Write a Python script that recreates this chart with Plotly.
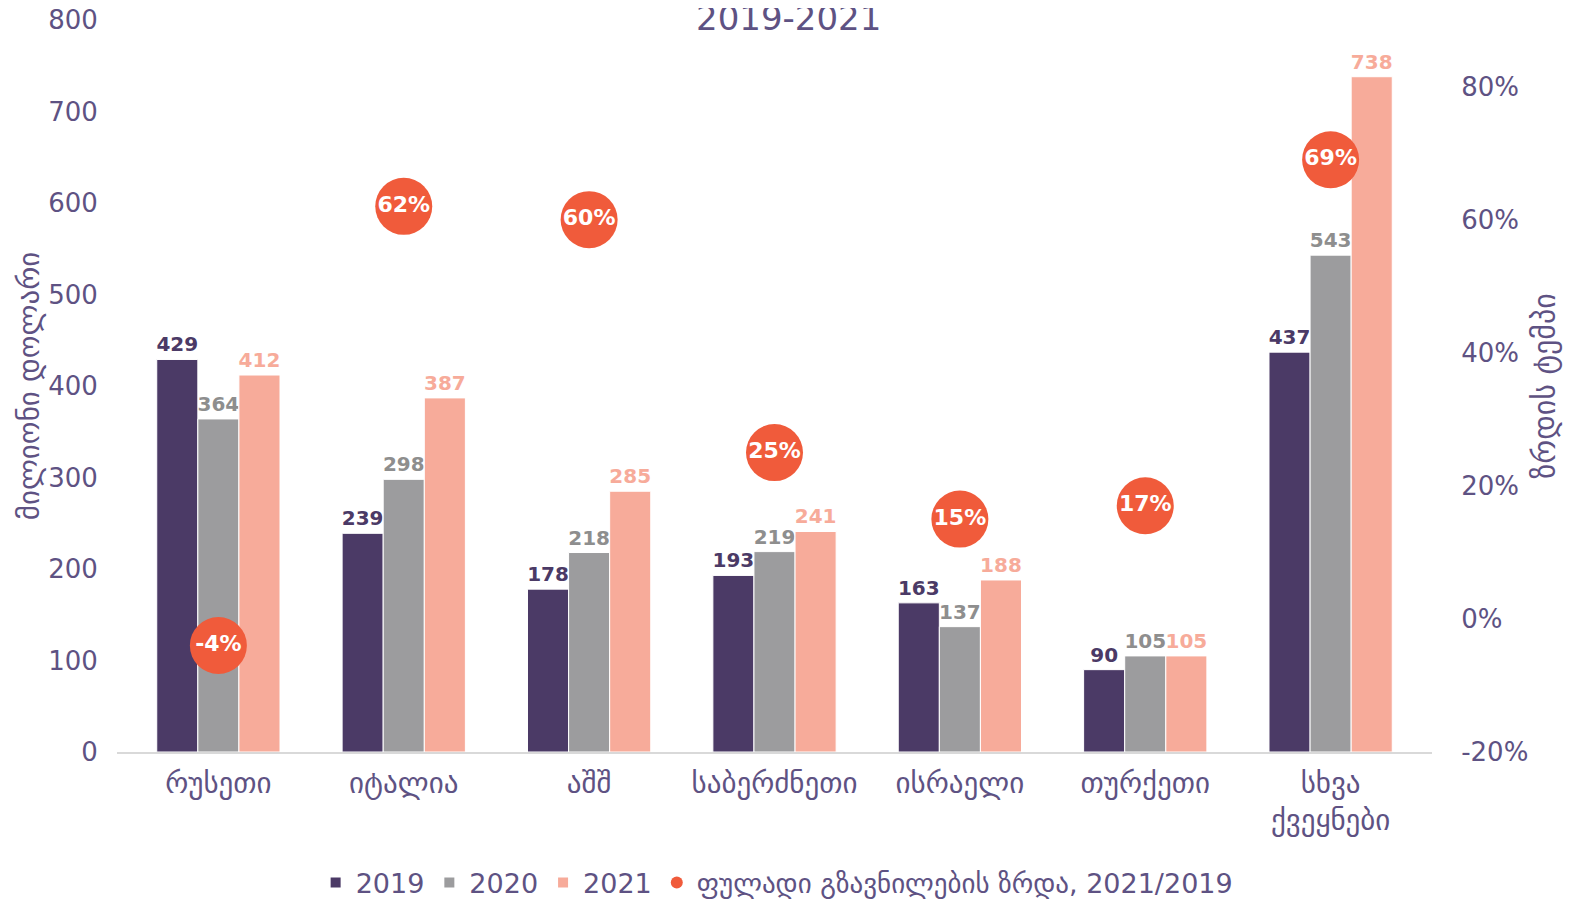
import plotly.graph_objects as go

# მონაცემები
countries = ["რუსეთი", "იტალია", "აშშ", "საბერძნეთი", "ისრაელი", "თურქეთი", "სხვა<br>ქვეყნები"]
v2019 = [429, 239, 178, 193, 163, 90, 437]
v2020 = [364, 298, 218, 219, 137, 105, 543]
v2021 = [412, 387, 285, 241, 188, 105, 738]
growth = [-0.04, 0.62, 0.60, 0.25, 0.15, 0.17, 0.69]
growth_ticks = [-0.2, 0, 0.2, 0.4, 0.6, 0.8]
growth_tick_text = ["-20%", "0%", "20%", "40%", "60%", "80%"]

TXT = "#5E5283"
C19, C20, C21, CDOT = "#4B3A66", "#9C9C9E", "#F7AB9A", "#F05B3B"
FONT = "DejaVu Sans"

fig = go.Figure()

for name, vals, col, tcol in [("2019", v2019, C19, C19), ("2020", v2020, C20, "#8E8E8E"), ("2021", v2021, C21, C21)]:
    fig.add_trace(go.Bar(
        x=countries, y=vals, name=name,
        marker=dict(color=col, line=dict(color="white", width=1)),
        text=vals, textposition="outside", cliponaxis=False, constraintext="none",
        textfont=dict(family=FONT, size=20, color=tcol, weight="bold"),
    ))

fig.add_trace(go.Scatter(
    x=countries, y=growth, yaxis="y2", mode="markers",
    name="ფულადი გზავნილების ზრდა, 2021/2019",
    marker=dict(color=CDOT, size=57),
))
fig.add_trace(go.Scatter(
    x=countries, y=growth, yaxis="y2", mode="text", showlegend=False,
    text=[f"{round(g * 100)}%" for g in growth],
    textfont=dict(family=FONT, size=22, color="white", weight="bold"),
))

# the page adds an 8px body margin, so the figure is 8px smaller
fig.update_layout(
    width=1567, height=893,
    margin=dict(l=109, r=143, t=12, b=149, autoexpand=False),
    paper_bgcolor="white", plot_bgcolor="white",
    barmode="group", bargap=0.335, bargroupgap=0,
    font=dict(family=FONT, color=TXT, size=24),
    showlegend=True,
    legend=dict(orientation="h", x=0.502, xanchor="center", y=-0.179, yanchor="middle",
                font=dict(family=FONT, size=27, color=TXT), itemsizing="constant",
                traceorder="normal"),
    xaxis=dict(showline=True, linecolor="#D9D9D9", linewidth=1.5, ticks="outside", automargin=False,
               ticklen=4, tickcolor="rgba(0,0,0,0)", tickfont=dict(size=29, color=TXT)),
    yaxis=dict(range=[0, 800], dtick=100, showgrid=False, zeroline=False, automargin=False,
               ticks="outside", ticklen=13, tickcolor="rgba(0,0,0,0)", ticklabeloverflow="allow",
               tickfont=dict(size=26, color=TXT),
               title=dict(text="მილიონი დოლარი", font=dict(family=FONT, size=29, color=TXT), standoff=0)),
    yaxis2=dict(range=[-0.2, 0.9], tickvals=growth_ticks, ticktext=growth_tick_text,
                overlaying="y", side="right", showgrid=False, zeroline=False, automargin=False,
                ticks="outside", ticklen=23, tickcolor="rgba(0,0,0,0)", ticklabeloverflow="allow",
                tickfont=dict(size=26, color=TXT),
                title=dict(text="ზრდის ტემპი", font=dict(family=FONT, size=30, color=TXT), standoff=6)),
    annotations=[dict(text="2019-2021", xref="paper", yref="paper", x=0.511, y=1.0027,
                      xanchor="center", yanchor="middle", showarrow=False,
                      font=dict(family=FONT, size=34, color=TXT))],
)

fig.write_html("out.html")
